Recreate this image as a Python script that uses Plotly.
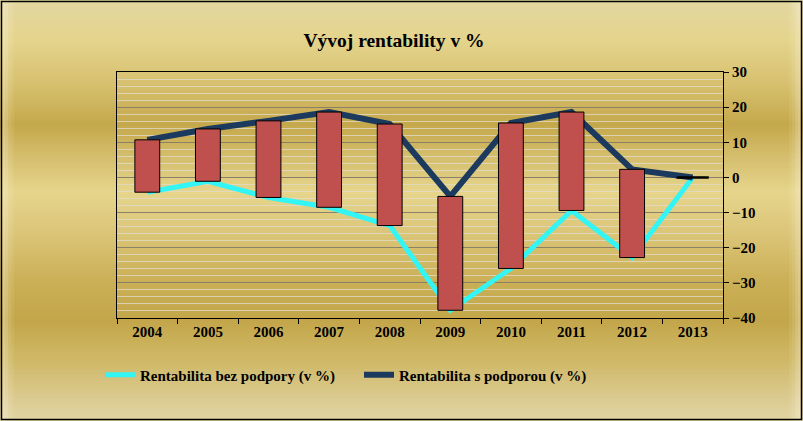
import plotly.graph_objects as go

# ---- data ----
years = ["2004", "2005", "2006", "2007", "2008", "2009", "2010", "2011", "2012", "2013"]
bez_podpory = [-4.2, -1.1, -5.7, -8.5, -13.7, -37.8, -25.9, -9.4, -22.8, 0.0]
s_podporou = [10.7, 13.8, 16.1, 18.6, 15.2, -5.4, 15.5, 18.6, 2.3, 0.0]
y_ticks = [-40, -30, -20, -10, 0, 10, 20, 30]

W, H = 803, 421
L, R, T, B = 117, 723, 72, 318


def px2x(px):
    return (px - L) / (R - L)


def py2y(py):
    return (B - py) / (B - T)


def hex2rgb(h):
    h = h.lstrip("#")
    return tuple(int(h[i:i + 2], 16) for i in (0, 2, 4))


def lerp(c1, c2, t):
    return tuple(round(a + (b - a) * t) for a, b in zip(c1, c2))


stops = [
    (0, "#e3d7a2"), (40, "#e4d48c"), (80, "#d8c272"), (125, "#c5a84b"),
    (160, "#d6c070"), (192, "#e6d58c"), (230, "#dcc67a"), (280, "#cbb057"),
    (320, "#c3a64a"), (360, "#cfb866"), (400, "#dccb92"), (421, "#e1d5a4"),
]

shapes = []
step = 3
for py in range(0, H, step):
    yc = py + step / 2
    for i in range(len(stops) - 1):
        if stops[i][0] <= yc <= stops[i + 1][0]:
            t = (yc - stops[i][0]) / (stops[i + 1][0] - stops[i][0])
            c = lerp(hex2rgb(stops[i][1]), hex2rgb(stops[i + 1][1]), t)
            break
    shapes.append(dict(type="rect", xref="paper", yref="paper",
                       x0=px2x(0), x1=px2x(W), y0=py2y(py + step + 0.5), y1=py2y(py),
                       fillcolor="rgb(%d,%d,%d)" % c, line=dict(width=0), layer="below"))

# lighter fade at left/right edges
for k, op in enumerate([0.35, 0.25, 0.15, 0.08]):
    for x0 in (2 + 3 * k, W - 5 - 3 * k):
        shapes.append(dict(type="rect", xref="paper", yref="paper",
                           x0=px2x(x0), x1=px2x(x0 + 3), y0=py2y(H), y1=py2y(0),
                           fillcolor="rgba(255,250,230,%.2f)" % op, line=dict(width=0), layer="below"))

# chart border
shapes.append(dict(type="rect", xref="paper", yref="paper",
                   x0=px2x(1.5), x1=px2x(801.5), y0=py2y(419.5), y1=py2y(1.5),
                   line=dict(color="black", width=1.5), fillcolor="rgba(0,0,0,0)", layer="above"))

fig = go.Figure()

fig.add_trace(go.Scatter(
    x=years, y=bez_podpory, mode="lines", name="Rentabilita bez podpory (v %)",
    line=dict(color="#33f5f5", width=5), yaxis="y"))
fig.add_trace(go.Scatter(
    x=years, y=s_podporou, mode="lines", name="Rentabilita s podporou (v %)",
    line=dict(color="#1b3a5e", width=6), yaxis="y"))

base = [min(a, b) for a, b in zip(bez_podpory, s_podporou)]
height = [abs(b - a) for a, b in zip(bez_podpory, s_podporou)]
fig.add_trace(go.Bar(
    x=years, y=height, base=base, width=0.41, showlegend=False,
    marker=dict(color="#c0504d", line=dict(color="black", width=1)), yaxis="y2"))

# zero-height up/down bars drawn as a flat line
flat_x = [yr for yr, a, b in zip(years, bez_podpory, s_podporou) if a == b]
flat_y = [a for a, b in zip(bez_podpory, s_podporou) if a == b]
fig.add_trace(go.Scatter(
    x=flat_x, y=flat_y, mode="markers", showlegend=False,
    marker=dict(symbol="line-ew", size=23, line=dict(color="black", width=2.5)), yaxis="y2"))

tickfont = dict(family="Liberation Serif", size=15, color="black", weight="bold")

fig.update_layout(
    width=W, height=H,
    margin=dict(l=L, r=W - R, t=T, b=H - B),
    paper_bgcolor="#e0d090",
    plot_bgcolor="rgba(0,0,0,0)",
    shapes=shapes,
    showlegend=True,
    hovermode=False,
    title=dict(text="Vývoj rentability v %", x=394 / W, xref="container", xanchor="center",
               y=1 - 40 / H, yref="container", yanchor="middle",
               font=dict(family="Liberation Serif", size=19.5, color="black", weight="bold")),
    xaxis=dict(type="category", range=[-0.5, 9.5], showline=True, linecolor="black", linewidth=1,
               mirror=True, ticks="outside", tickson="boundaries", ticklen=5, tickcolor="black",
               showgrid=False, tickfont=tickfont, fixedrange=True),
    yaxis=dict(side="right", range=[-40, 30], tickvals=y_ticks, ticks="outside", ticklen=5,
               tickcolor="black", showline=True, linecolor="black", linewidth=1, mirror=True,
               gridcolor="rgba(110,100,80,0.75)", gridwidth=1, zeroline=False,
               minor=dict(dtick=2, showgrid=True, gridcolor="rgba(225,220,205,0.75)", gridwidth=1),
               tickfont=tickfont, fixedrange=True),
    yaxis2=dict(overlaying="y", side="right", range=[-40, 30], showgrid=False, showticklabels=False,
                zeroline=False, showline=False, ticks="", fixedrange=True),
    legend=dict(orientation="h", x=100 / W, xref="container", xanchor="left",
                y=1 - 375 / H, yref="container", yanchor="middle",
                font=dict(family="Liberation Serif", size=15, color="black", weight="bold"),
                bgcolor="rgba(0,0,0,0)", itemwidth=30, entrywidth=214, entrywidthmode="pixels"),
)

fig.write_html("out.html", config={"displayModeBar": False},
               post_script="document.body.style.margin='0';document.body.style.overflow='hidden';")
